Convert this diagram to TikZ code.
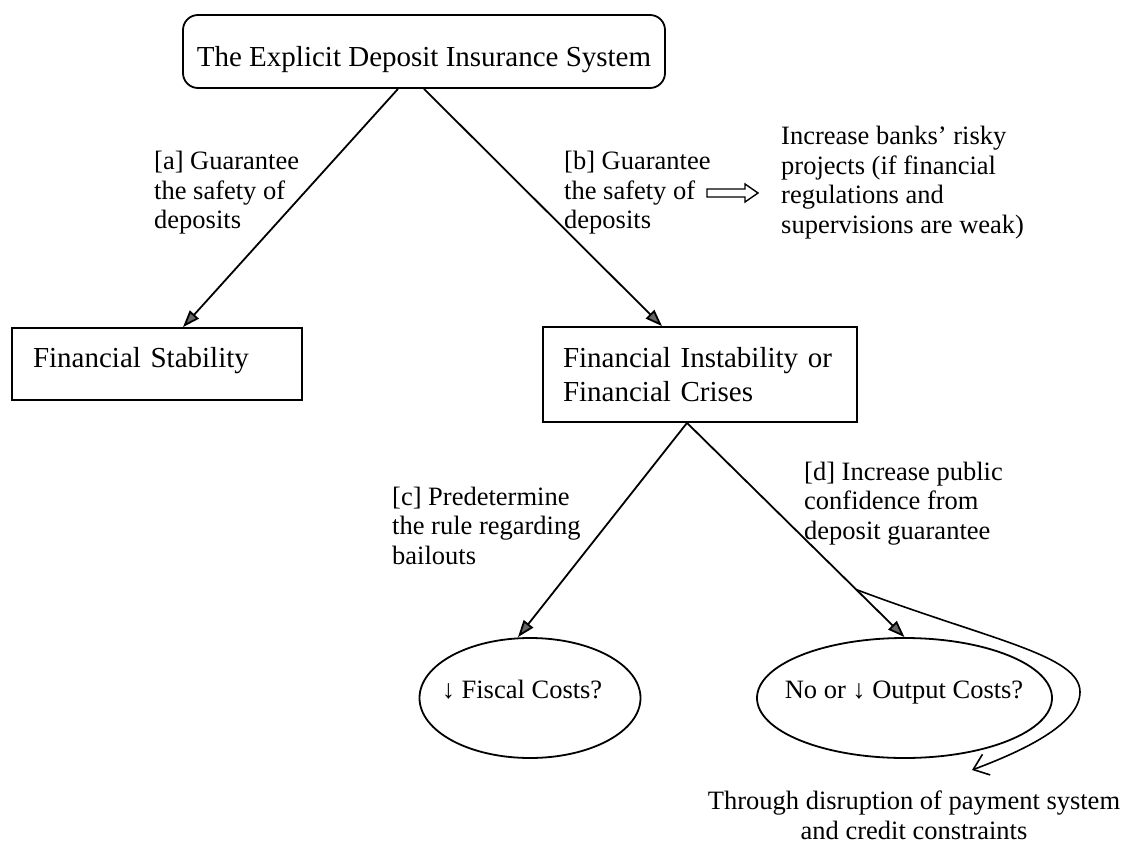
\documentclass[tikz,border=0pt]{standalone}
\usepackage{fontspec}
\setmainfont{Liberation Serif}
\usetikzlibrary{arrows.meta,calc,shapes.geometric}
\newcommand\bigfnt{\fontsize{29}{34}\selectfont}
\newcommand\smfnt{\fontsize{26.5}{29.5}\selectfont}
\begin{document}
\begin{tikzpicture}[x=1pt,y=-1pt,
  box/.style={draw,line width=1.8pt,inner sep=0pt,font=\bigfnt},
  lbl/.style={font=\smfnt,align=left,anchor=base west,inner sep=0pt},
  ovtext/.style={font=\smfnt,anchor=base,inner sep=0pt},
  arr/.style={line width=1.8pt,-{Triangle[length=17pt,width=12pt,fill=black!60]}},
  oval/.style={draw,ellipse,line width=1.8pt,inner sep=0pt}]
\useasboundingbox (0,0) rectangle (1124,850);

% boxes
\node[box,rounded corners=15pt,minimum width=482pt,minimum height=73pt,
      text height=36pt,text depth=5pt] (top) at (424,51.5)
      {The Explicit Deposit Insurance System};
\node[box,minimum width=290pt,minimum height=72pt,text width=248pt,align=left,
      text height=20pt,text depth=14pt] (fs) at (157,364) {Financial Stability};
\node[box,minimum width=314pt,minimum height=95pt,text width=274pt,align=left]
      (fi) at (700,374.5) {Financial Instability or\\Financial Crises};

% ellipses
\node[oval,minimum width=221pt,minimum height=120pt] (e1) at (530,698) {};
\node[ovtext] (e1t) at (522,698) {↓ Fiscal Costs?};
\node[oval,minimum width=295pt,minimum height=120pt] (e2) at (904.5,698) {};
\node[ovtext] (e2t) at (904,698) {No or ↓ Output Costs?};

% labels (anchored at the baseline of their last line)
\node[lbl] (la) at (154,229) {[a] Guarantee\\the safety of\\deposits};
\node[lbl] (lb) at (564,229) {[b] Guarantee\\the safety of\\deposits};
\node[lbl] (risk) at (781,233.5) {Increase banks’ risky\\projects (if financial\\regulations and\\supervisions are weak)};
\node[lbl] (lc) at (392,564) {[c] Predetermine\\the rule regarding\\bailouts};
\node[lbl] (ld) at (804,539) {[d] Increase public\\confidence from\\deposit guarantee};
\node[font=\smfnt,align=center,anchor=base,inner sep=0pt] (thr) at (914,839)
      {Through disruption of payment system\\and credit constraints};

% hollow block arrow
\draw[line width=1.4pt] (707,189) -- (745,189) -- (745,184) -- (758,193)
      -- (745,202) -- (745,197) -- (707,197) -- cycle;

% connectors
\draw[arr] ([xshift=-26pt]top.south) -- ([xshift=26pt]fs.north);
\draw[arr] (top.south) -- ([xshift=-38pt]fi.north);
\coordinate (fis) at ([xshift=-13pt]fi.south);
\draw[arr] (fis) -- ([xshift=-12pt]e1.north);
\draw[arr] (fis) -- (e2.north);
\coordinate (cs) at ($(fis)!0.778!(e2.north)$);
\coordinate (ct) at (972,770);
\draw[line width=1.6pt,-{Straight Barb[length=14pt,width=22pt]}]
  (cs) .. controls (990,640) and (1080,655) .. (1080,692)
       .. controls (1080,725) and (1020,752) .. (ct);
\end{tikzpicture}
\end{document}
